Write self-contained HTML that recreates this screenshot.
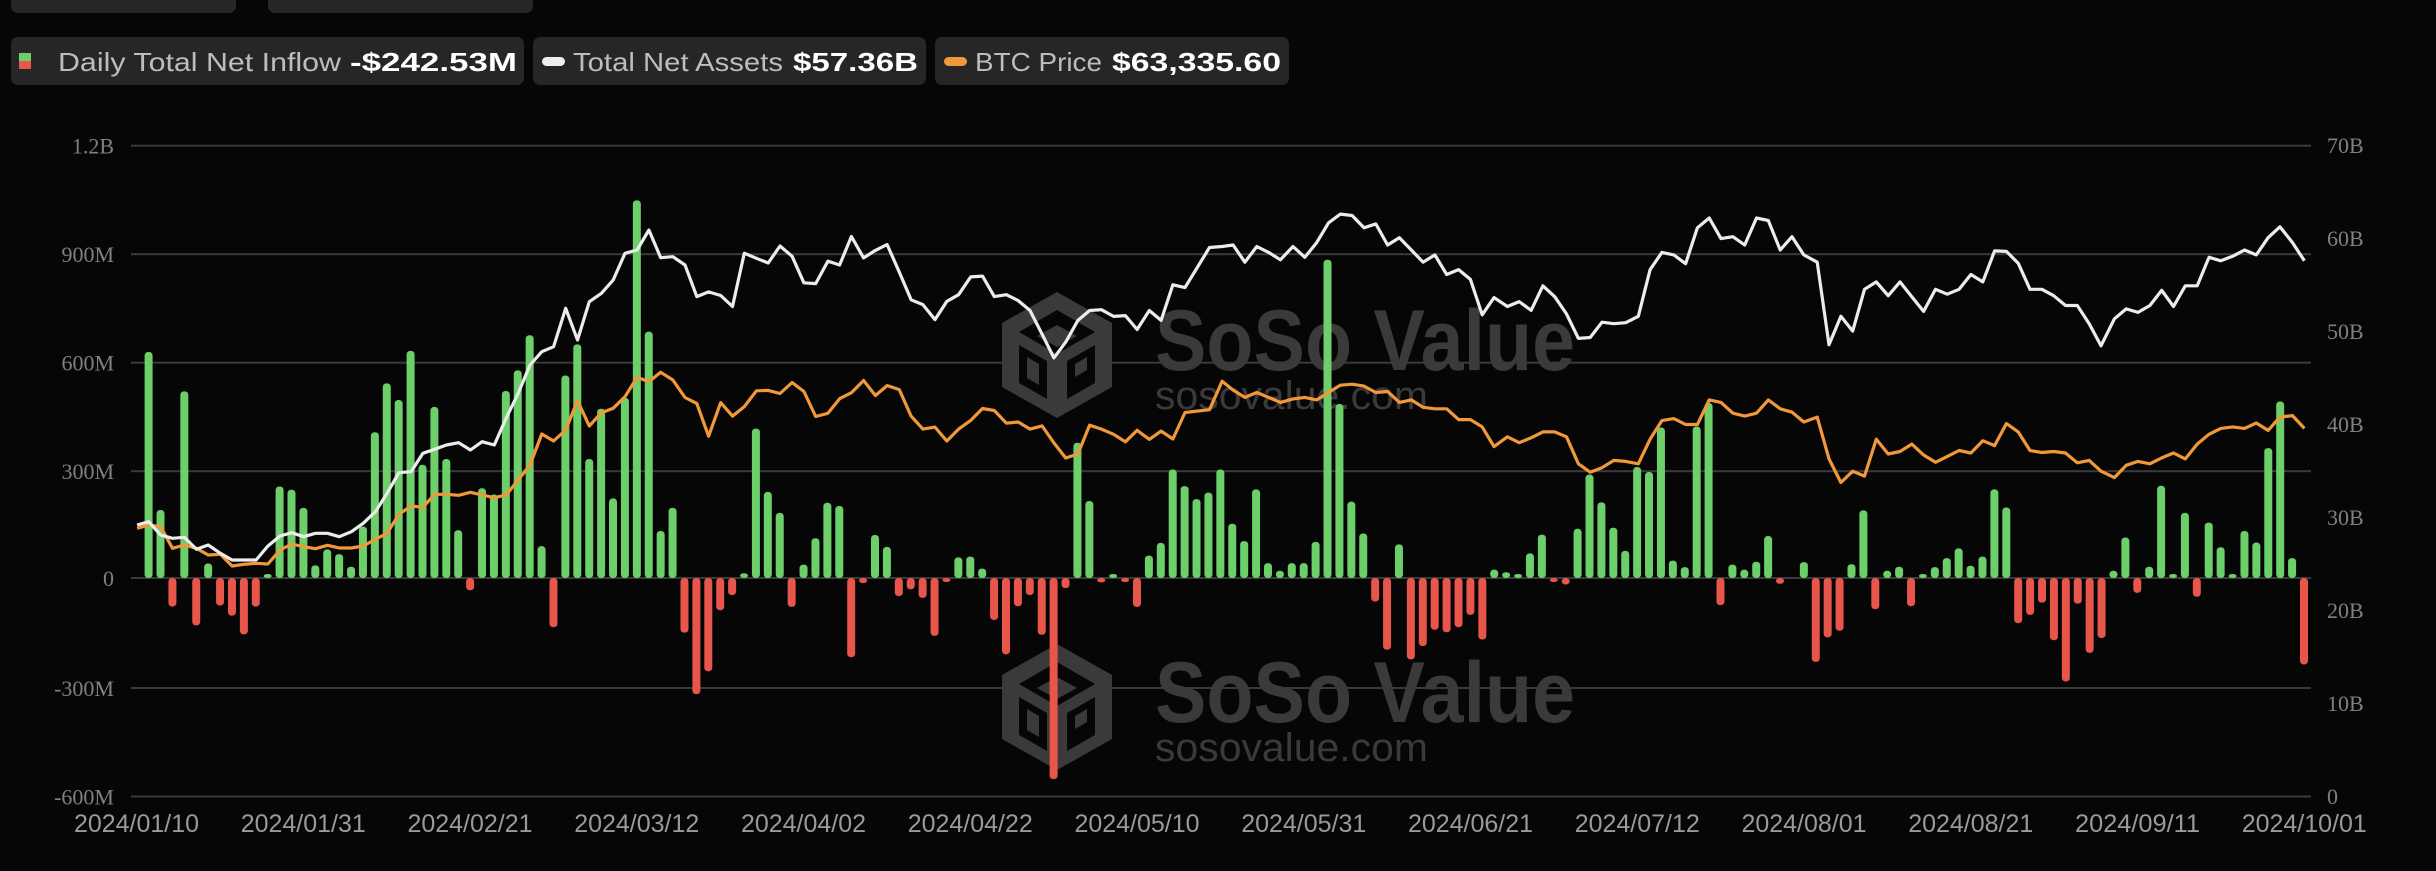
<!DOCTYPE html>
<html><head><meta charset="utf-8"><style>
html,body{margin:0;padding:0;background:#060606;}
svg{display:block;}
</style></head><body>
<svg id="s" xmlns="http://www.w3.org/2000/svg" width="2436" height="871" viewBox="0 0 2436 871">
<rect width="2436" height="871" fill="#060606"/>
<rect x="11" y="-10" width="225" height="23" rx="7" fill="#262626"/>
<rect x="268" y="-10" width="265" height="23" rx="7" fill="#262626"/>
<rect x="11" y="37" width="513" height="48" rx="7" fill="#262626"/>
<rect x="533" y="37" width="393" height="48" rx="7" fill="#262626"/>
<rect x="935" y="37" width="354" height="48" rx="7" fill="#262626"/>
<rect x="19" y="53" width="12" height="8" fill="#6ccf6a"/>
<rect x="19" y="61" width="12" height="8" fill="#e8554a"/>
<rect x="542" y="57" width="23" height="9" rx="4.5" fill="#eeeeee"/>
<rect x="944" y="57" width="23" height="9" rx="4.5" fill="#f0983a"/>
<g font-family="Liberation Sans, sans-serif" font-size="26">
<text x="58" y="71" fill="#bdbdbd" textLength="283" lengthAdjust="spacingAndGlyphs">Daily Total Net Inflow</text>
<text x="350" y="71" fill="#fff" font-weight="bold" textLength="167" lengthAdjust="spacingAndGlyphs">-$242.53M</text>
<text x="573" y="71" fill="#bdbdbd" textLength="210" lengthAdjust="spacingAndGlyphs">Total Net Assets</text>
<text x="793" y="71" fill="#fff" font-weight="bold" textLength="125" lengthAdjust="spacingAndGlyphs">$57.36B</text>
<text x="975" y="71" fill="#bdbdbd" textLength="127" lengthAdjust="spacingAndGlyphs">BTC Price</text>
<text x="1112" y="71" fill="#fff" font-weight="bold" textLength="169" lengthAdjust="spacingAndGlyphs">$63,335.60</text>
</g>
<g id="grid"></g>
<g id="wm"></g>
<g id="bars"></g>
<g id="lines"></g>
<g id="labels"></g>
</svg>
<script>
var NS="http://www.w3.org/2000/svg";
function el(p,t,a,txt){var e=document.createElementNS(NS,t);for(var k in a)e.setAttribute(k,a[k]);if(txt!==undefined)e.textContent=txt;document.getElementById(p).appendChild(e);return e;}
// grid
var gy=[145.7,254.2,362.7,471.2,578,688,796.5];
var ll=["1.2B","900M","600M","300M","0","-300M","-600M"];
var rl=["70B","60B","50B","40B","30B","20B","10B","0"];
var ry=[145,238,331,424,517,610,703,796];
gy.forEach(function(y,i){el("grid","rect",{x:131,y:y-1,width:2180,height:2,fill:"#3a3a3a"});
el("labels","text",{x:114,y:y+8,"text-anchor":"end",fill:"#808080","font-family":"Liberation Serif, serif","font-size":22},ll[i]);});
ry.forEach(function(y,i){el("labels","text",{x:2327,y:y+8,fill:"#808080","font-family":"Liberation Serif, serif","font-size":22},rl[i]);});
var xl=["2024/01/10","2024/01/31","2024/02/21","2024/03/12","2024/04/02","2024/04/22","2024/05/10","2024/05/31","2024/06/21","2024/07/12","2024/08/01","2024/08/21","2024/09/11","2024/10/01"];
xl.forEach(function(t,i){var c=136.5+i*166.75;el("labels","text",{x:c-62.5,y:832,fill:"#9a9a9a","font-family":"Liberation Sans, sans-serif","font-size":25,textLength:125,lengthAdjust:"spacingAndGlyphs"},t);});
// watermark
function wm(dy){
 var cx=1057,cy=355+dy;
 var hex=[[cx,cy-63],[cx+55,cy-32],[cx+55,cy+32],[cx,cy+63],[cx-55,cy+32],[cx-55,cy-32]];
 el("wm","polygon",{points:hex.map(function(p){return p.join(",")}).join(" "),fill:"#3a3a3a"});
 el("wm","polygon",{points:[[cx,cy-45],[cx+38,cy-23],[cx,cy-1],[cx-38,cy-23]].map(function(p){return p.join(",")}).join(" "),fill:"#060606"});
 el("wm","polygon",{points:[[cx,cy-30],[cx+20,cy-19],[cx,cy-8],[cx-20,cy-19]].map(function(p){return p.join(",")}).join(" "),fill:"#3a3a3a"});
 el("wm","polygon",{points:[[cx-38,cy-10],[cx-10,cy+6],[cx-10,cy+44],[cx-38,cy+28]].map(function(p){return p.join(",")}).join(" "),fill:"#060606"});
 el("wm","polygon",{points:[[cx-30,cy+2],[cx-18,cy+9],[cx-18,cy+30],[cx-30,cy+23]].map(function(p){return p.join(",")}).join(" "),fill:"#3a3a3a"});
 el("wm","polygon",{points:[[cx+38,cy-10],[cx+10,cy+6],[cx+10,cy+44],[cx+38,cy+28]].map(function(p){return p.join(",")}).join(" "),fill:"#060606"});
 el("wm","polygon",{points:[[cx+30,cy+2],[cx+18,cy+9],[cx+18,cy+22],[cx+30,cy+15]].map(function(p){return p.join(",")}).join(" "),fill:"#3a3a3a"});
 el("wm","text",{x:1155,y:370+dy,fill:"#3a3a3a","font-family":"Liberation Sans, sans-serif","font-weight":"bold","font-size":86,textLength:420,lengthAdjust:"spacingAndGlyphs"},"SoSo Value");
 el("wm","text",{x:1155,y:409+dy,fill:"#3a3a3a","font-family":"Liberation Sans, sans-serif","font-size":40,textLength:273,lengthAdjust:"spacingAndGlyphs"},"sosovalue.com");
}
wm(0);wm(352);
// bars
var v=[0,625,188,-79,516,-131,40,-76,-104,-156,-79,10,253,244,194,35,79,66,31,142,403,538,492,628,313,473,329,132,-34,248,231,517,574,671,88,-136,560,646,329,468,220,498,1044,681,130,194,
-151,-321,-258,-89,-47,13,413,238,180,-80,37,110,208,199,-219,-14,119,86,-50,-31,-55,-160,-3,57,59,26,-116,-211,-78,-47,-157,-556,-28,374,213,-12,10,-9,-80,62,97,300,254,
218,236,300,150,102,245,41,20,41,41,100,880,481,211,123,-65,-198,93,-225,-188,-143,-150,-136,-102,-170,23,16,7,68,120,-11,-18,136,286,209,139,75,307,293,416,48,30,419,484,-75,37,23,45,116,-16,0,44,-232,-164,-146,38,187,-86,20,31,-78,7,30,55,82,34,59,245,195,-125,-102,-68,-172,-286,-71,-207,-166,20,112,-41,31,255,7,180,-52,153,85,3,130,98,359,488,55,-239];
var s=(2304-148.6)/181;
v.forEach(function(val,i){if(i==0||val==0)return;var x=148.6+(i-1)*s;var h=Math.max(Math.abs(val)*0.3617,4);
 var y=val>0?578-h:578;el("bars","rect",{x:x-4,y:y,width:8,height:h,rx:3.5,fill:val>0?"#6ccf6a":"#e8554a"});});
// lines
function conv(arr,ox,sx,oy,sy){return arr.map(function(p){return (ox+p[0]/sx).toFixed(1)+","+(oy+p[1]/sy).toFixed(1);});}
var w4=[[48,1035],[80,1025],[114,1065],[147,1075],[180,1072],[214,1108],[247,1095],[281,1120],[314,1140],[347,1140],[381,1140],[414,1098],[448,1068],[481,1058],[514,1070],[547,1060],[581,1060],[614,1070],[648,1055],[681,1030],[715,995],[748,940],[781,878],[815,875],[848,820],[881,808],[914,795],[948,788],[981,810],[1014,785],[1048,795],[1081,715],[1115,640],[1148,555],[1181,515],[1214,500],[1248,385],[1281,480],[1314,365],[1348,340],[1381,300],[1414,220],[1448,210],[1481,150],[1514,233],[1548,230]];
var o4=[[48,1045],[80,1035],[114,1040],[147,1105],[180,1095],[214,1105],[247,1125],[281,1123],[314,1158],[347,1153],[381,1150],[414,1152],[448,1110],[481,1092],[514,1100],[547,1106],[581,1096],[614,1104],[648,1104],[681,1098],[715,1078],[748,1060],[781,1003],[815,978],[848,982],[881,943],[914,943],[948,946],[981,937],[1014,945],[1048,953],[1081,945],[1115,900],[1148,855],[1181,762],[1214,783],[1248,750],[1281,662],[1314,738],[1348,698],[1381,685],[1414,650],[1448,592],[1481,605],[1514,577],[1548,600]];
var w5=[[42,215],[75,295],[108,283],[142,292],[175,320],[208,185],[242,198],[275,210],[308,167],[342,193],[375,260],[408,262],[442,205],[475,215],[508,143],[542,197],[575,178],[608,163],[642,233],[675,303],[708,315],[742,353],[775,307],[808,290],[842,245],[875,243],[908,295],[942,290],[975,305],[1008,330],[1042,390],[1075,450],[1108,410],[1142,355],[1175,330],[1208,328],[1242,345],[1275,343],[1308,378],[1342,330],[1375,355],[1408,265],[1442,272]];
var o5=[[42,550],[75,565],[108,648],[142,563],[175,597],[208,573],[242,533],[275,532],[308,540],[342,512],[375,535],[408,598],[442,590],[475,553],[508,538],[542,507],[575,545],[608,520],[642,530],[675,597],[708,630],[742,625],[775,660],[808,630],[842,608],[875,578],[908,583],[942,615],[975,612],[1008,630],[1042,622],[1075,665],[1108,703],[1142,693],[1175,620],[1208,630],[1242,643],[1275,662],[1308,633],[1342,656],[1375,635],[1408,655],[1442,588]];
var w3=[[0,350],[12,300],[28,298],[42,295],[57,330],[72,298],[87,310],[102,325],[118,298],[133,320],[148,290],[163,250],[178,232],[193,235],[208,260],[223,252],[238,295],[253,280],[268,305],[283,330],[298,315],[313,355],[328,345],[343,365],[358,437],[373,402],[390,420],[405,410],[420,428],[435,378],[450,400],[465,435],[480,485],[495,483],[510,452],[525,455],[540,453],[556,440],[571,345],[586,310],[601,315],[616,333],[631,260],[646,240],[661,282],[676,278],[691,295],[706,240],[721,245],[736,305],[751,278],[766,315],[783,330],[798,498],[813,440],[828,470],[843,385],[858,370],[873,398],[888,370],[903,400],[918,430],[933,385],[948,395],[963,385],[978,355],[993,370],[1008,307],[1023,308],[1038,332],[1053,385],[1068,385],[1083,398],[1098,418],[1113,418],[1128,455],[1143,500],[1160,445],[1175,425],[1190,432],[1205,418],[1220,387],[1235,420],[1250,378],[1265,378],[1280,320],[1295,327],[1310,318],[1325,305],[1340,315],[1355,280],[1370,258],[1386,290],[1401,327]];
var o3=[[0,640],[12,630],[28,572],[42,590],[57,605],[72,595],[87,605],[102,615],[118,608],[133,605],[148,610],[163,595],[178,580],[193,578],[208,582],[223,595],[238,593],[253,615],[268,610],[283,625],[298,628],[313,628],[328,650],[343,650],[358,665],[373,705],[390,685],[405,697],[420,687],[435,675],[450,675],[465,685],[480,740],[495,757],[510,748],[525,733],[540,735],[556,740],[571,690],[586,652],[601,648],[616,660],[631,660],[646,610],[661,615],[676,637],[691,643],[706,637],[721,610],[736,628],[751,635],[766,655],[783,645],[798,730],[813,778],[828,755],[843,765],[858,690],[873,720],[888,715],[903,700],[918,722],[933,737],[948,725],[963,713],[978,718],[993,693],[1008,703],[1023,658],[1038,675],[1053,713],[1068,717],[1083,715],[1098,718],[1113,738],[1128,733],[1143,755],[1160,768],[1175,743],[1190,735],[1205,740],[1220,728],[1235,718],[1250,730],[1265,700],[1280,680],[1295,668],[1310,665],[1325,668],[1340,657],[1355,672],[1370,645],[1386,642],[1401,668]];
var W=conv(w4,120,2.8,180,3).concat(conv(w5,670,2.8,180,2.529)).concat(conv(w3.slice(1),1200,1.2686,100,2.034));
var O=conv(o4,120,2.8,180,3).concat(conv(o5,670,2.8,180,2.529)).concat(conv(o3.slice(1),1200,1.2686,100,2.034));
el("lines","polyline",{points:O.join(" "),fill:"none",stroke:"#f0983a","stroke-width":3.2,"stroke-linejoin":"round"});
el("lines","polyline",{points:W.join(" "),fill:"none",stroke:"#ececec","stroke-width":3.2,"stroke-linejoin":"round"});
</script>
</body></html>
